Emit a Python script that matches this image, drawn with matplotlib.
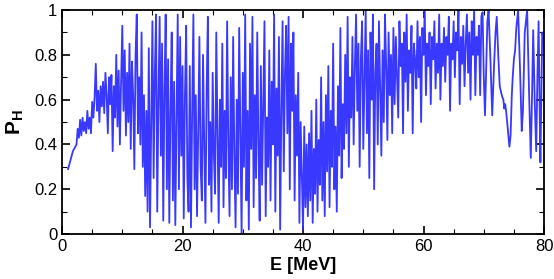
import numpy as np
import matplotlib.pyplot as plt
from matplotlib.ticker import MultipleLocator

plt.rcParams['font.family'] = ['Liberation Sans', 'DejaVu Sans']
plt.rcParams['mathtext.fontset'] = 'custom'
plt.rcParams['mathtext.bf'] = 'Liberation Sans:bold'
plt.rcParams['mathtext.rm'] = 'Liberation Sans'

# energy grid of the dense part (step 0.2 MeV, from 1.0 to 70.8)
e_dense = np.round(np.arange(1.0, 70.81, 0.2), 1)

# P_H, one row = 2 MeV
p_dense = [
    0.29, 0.31, 0.33, 0.35, 0.37, 0.38, 0.39, 0.40, 0.47, 0.43,
    0.51, 0.44, 0.52, 0.46, 0.50, 0.45, 0.55, 0.47, 0.52, 0.45,
    0.59, 0.52, 0.61, 0.76, 0.55, 0.64, 0.50, 0.66, 0.57, 0.68,
    0.54, 0.72, 0.62, 0.45, 0.70, 0.58, 0.71, 0.37, 0.66, 0.52,
    0.80, 0.48, 0.73, 0.40, 0.68, 0.93, 0.55, 0.82, 0.44, 0.72,
    0.50, 0.85, 0.38, 0.77, 0.62, 0.29, 0.80, 0.98, 0.45, 0.70,
    0.40, 0.90, 0.30, 0.62, 0.17, 0.55, 0.10, 0.83, 0.03, 0.47,
    0.95, 0.25, 0.72, 0.98, 0.10, 0.60, 0.97, 0.35, 0.85, 0.06,
    0.65, 0.98, 0.20, 0.78, 0.05, 0.55, 0.90, 0.15, 0.68, 0.04,
    0.50, 0.98, 0.20, 0.88, 0.35, 0.75, 0.07, 0.62, 0.93, 0.25,
    0.10, 0.75, 0.03, 0.55, 0.98, 0.20, 0.62, 0.08, 0.45, 0.88,
    0.30, 0.15, 0.80, 0.40, 0.05, 0.65, 0.97, 0.22, 0.50, 0.10,
    0.72, 0.35, 0.18, 0.90, 0.45, 0.05, 0.60, 0.30, 0.85, 0.12,
    0.55, 0.25, 0.95, 0.40, 0.08, 0.70, 0.20, 0.88, 0.35, 0.03,
    0.60, 0.18, 0.92, 0.45, 0.00, 0.72, 0.30, 0.98, 0.15, 0.55,
    0.02, 0.85, 0.38, 0.97, 0.12, 0.62, 0.25, 0.90, 0.40, 0.06,
    0.75, 0.22, 0.60, 0.95, 0.08, 0.52, 0.30, 0.82, 0.15, 0.68,
    0.40, 0.98, 0.10, 0.65, 0.35, 0.88, 0.02, 0.55, 0.95, 0.28,
    0.72, 0.93, 0.45, 0.97, 0.20, 0.85, 0.55, 0.90, 0.15, 0.62,
    0.35, 0.72, 0.05, 0.50, 0.25, 0.02, 0.48, 0.12, 0.40, 0.08,
    0.45, 0.15, 0.55, 0.05, 0.38, 0.18, 0.60, 0.10, 0.42, 0.22,
    0.70, 0.15, 0.50, 0.08, 0.62, 0.28, 0.75, 0.12, 0.55, 0.30,
    0.85, 0.20, 0.48, 0.10, 0.66, 0.35, 0.92, 0.25, 0.58, 0.38,
    0.80, 0.45, 0.97, 0.30, 0.70, 0.52, 0.88, 0.40, 0.75, 0.98,
    0.55, 0.85, 0.30, 0.78, 0.95, 0.38, 0.68, 1.00, 0.45, 0.82,
    0.25, 0.90, 0.60, 0.98, 0.20, 0.72, 0.85, 0.40, 0.95, 0.65,
    0.35, 0.82, 0.50, 0.98, 0.75, 0.42, 0.90, 0.62, 0.80, 0.45,
    0.92, 0.58, 0.88, 0.70, 0.52, 0.95, 0.75, 0.85, 0.45, 0.90,
    0.68, 0.98, 0.55, 0.82, 0.72, 0.93, 0.45, 0.85, 0.78, 0.65,
    0.95, 0.70, 0.88, 0.50, 0.92, 0.80, 1.00, 0.62, 0.85, 0.75,
    0.90, 0.58, 0.88, 0.78, 0.95, 0.65, 0.85, 0.72, 0.98, 0.60,
    0.85, 0.75, 0.92, 0.68, 0.88, 0.80, 0.97, 0.55, 0.85, 0.78,
    0.95, 0.70, 0.90, 0.82, 1.00, 0.58, 0.88, 0.76, 0.93, 0.66,
    0.85, 0.98, 0.72, 0.90, 0.60, 0.95, 0.80, 1.00, 0.62, 0.88,
    0.80, 0.93, 0.62, 0.97, 0.99, 0.70, 0.53, 0.75, 0.95, 1.00,
]

# smoother high-energy tail
e_tail = [71.1, 71.4, 71.7, 71.95, 72.15, 72.4, 72.65, 72.9, 73.1, 73.25,
          73.4, 73.55, 73.7, 73.95, 74.25, 74.45, 74.65, 74.8, 75.0, 75.2,
          75.4, 75.7, 76.0, 76.3, 76.5, 76.8, 77.2, 77.5, 77.8, 78.0,
          78.2, 78.45, 78.7, 78.9, 79.1, 79.25, 79.4, 79.55, 79.7, 79.85]
p_tail = [0.78, 0.53, 0.75, 0.90, 0.97, 0.80, 0.66, 0.63, 0.61, 0.60,
          0.56, 0.58, 0.55, 0.48, 0.39, 0.44, 0.62, 0.70, 0.78, 0.82,
          0.92, 1.00, 0.75, 0.46, 0.55, 0.90, 1.00, 0.65, 0.34, 0.60,
          0.91, 0.60, 0.37, 0.70, 0.95, 0.60, 0.32, 0.60, 0.90, 0.88]

energia = np.concatenate([e_dense, e_tail])
prob = np.concatenate([p_dense, p_tail])

fig = plt.figure(figsize=(5.54, 2.79), dpi=100)
ax = fig.add_axes([0.112, 0.161, 0.87, 0.803])
ax.plot(energia, prob, color='#2d2dff', lw=1.3, alpha=0.95)

ax.set_xlim(0, 80)
ax.set_ylim(0, 1)
ax.xaxis.set_major_locator(MultipleLocator(20))
ax.xaxis.set_minor_locator(MultipleLocator(5))
ax.yaxis.set_major_locator(MultipleLocator(0.2))
ax.yaxis.set_minor_locator(MultipleLocator(0.1))
ax.set_yticks([0, 0.2, 0.4, 0.6, 0.8, 1.0])
ax.set_yticklabels(['0', '0.2', '0.4', '0.6', '0.8', '1'])
ax.tick_params(which='both', direction='in', top=True, right=True, labelsize=12)
ax.tick_params(which='major', length=6, width=1.2)
ax.tick_params(which='minor', length=3.5, width=0.8)
for s in ax.spines.values():
    s.set_linewidth(1.3)

ax.set_xlabel('E [MeV]', fontsize=13, fontweight='bold', labelpad=2)
ax.set_ylabel(r'$\mathbf{P_H}$', fontsize=15, labelpad=6)

fig.savefig('out.png', dpi=100)
